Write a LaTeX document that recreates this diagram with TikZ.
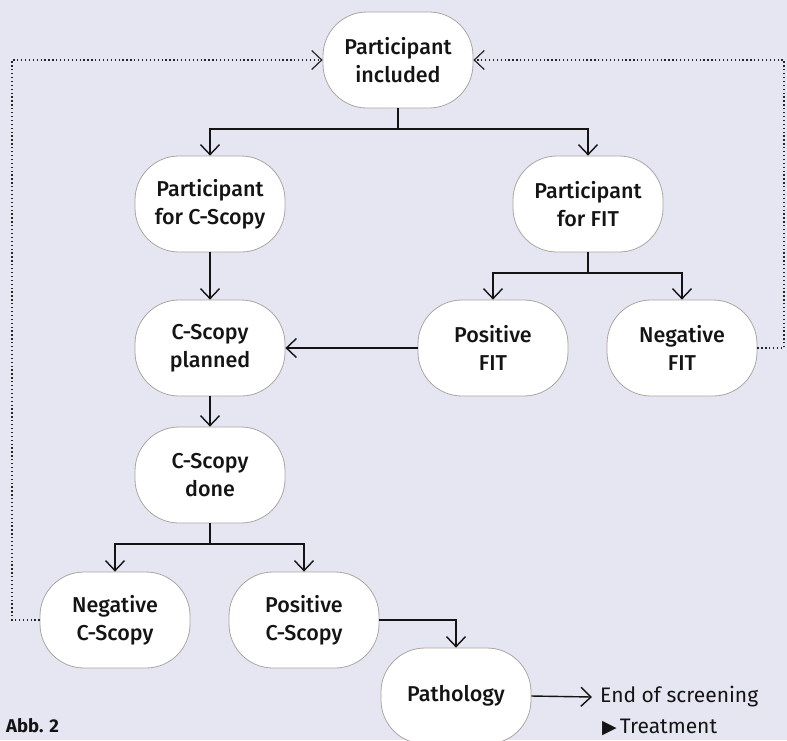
\documentclass[tikz,border=0pt]{standalone}
\usepackage{fontspec}
\setmainfont{Fira Sans}
\newfontfamily\medfont{Fira Sans Medium}
\newfontfamily\symfont{DejaVu Sans}
\usetikzlibrary{arrows.meta}
\definecolor{bg}{RGB}{230,230,243}
\definecolor{bord}{RGB}{172,165,158}
\definecolor{ink}{RGB}{20,20,20}
\tikzset{
  box/.style={draw=bord, line width=0.8pt, fill=white, rounded corners=44pt,
    minimum width=150pt, minimum height=96pt, align=center, inner sep=0pt,
    text=ink, font=\medfont\fontsize{21.5}{28}\selectfont},
  flow/.style={draw=ink, line width=1.4pt,
    -{Straight Barb[length=10pt,width=19pt,line width=1.4pt]}},
  flowline/.style={draw=ink, line width=1.4pt},
  loopline/.style={draw=black!85, line width=1.3pt, dash pattern=on 1.3pt off 2.6pt,
    -{Straight Barb[length=10pt,width=19pt,line width=1.2pt]}},
  plain/.style={text=ink, inner sep=0pt, anchor=west, font=\fontsize{21}{24}\selectfont},
}
\begin{document}
\begin{tikzpicture}[x=1pt,y=-1pt]
\fill[bg] (0,0) rectangle (787,740);
\useasboundingbox (0,0) rectangle (787,740);

\node[box] (inc)  at (398,60)  {Participant\\included};
\node[box] (pc)   at (210,204) {Participant\\for C-Scopy};
\node[box] (pf)   at (588,204) {Participant\\for FIT};
\node[box] (plan) at (210,348) {C-Scopy\\planned};
\node[box] (pos)  at (493,348) {Positive\\FIT};
\node[box] (neg)  at (682,348) {Negative\\FIT};
\node[box] (done) at (210,475) {C-Scopy\\done};
\node[box] (nc)   at (115,620) {Negative\\C-Scopy};
\node[box] (pcs)  at (304,620) {Positive\\C-Scopy};
\node[box] (path) at (456,696) {Pathology};

\node[plain] (eos) at (600,697) {End of screening};
\node[plain] (treat) at (602,727) {{\symfont\fontsize{19}{19}\selectfont ▶}\hspace{3pt}Treatment};
\node[plain, font=\bfseries\fontsize{18.5}{20}\selectfont] (abb) at (6,726) {Abb. 2};

\coordinate (lc) at (12,0);
\coordinate (rc) at (784,0);

% main flow
\draw[flowline] (inc.south) -- (inc.south |- 0,129);
\draw[flow] (inc.south |- 0,129) -| (pc.north);
\draw[flow] (inc.south |- 0,129) -| (pf.north);
\draw[flow] (pc.south) -- (plan.north);
\draw[flowline] (pf.south) -- (pf.south |- 0,273);
\draw[flow] (pf.south |- 0,273) -| (pos.north);
\draw[flow] (pf.south |- 0,273) -| (neg.north);
\draw[flow] (pos.west) -- (plan.east);
\draw[flow] (plan.south) -- (done.north);
\draw[flowline] (done.south) -- (done.south |- 0,544);
\draw[flow] (done.south |- 0,544) -| (nc.north);
\draw[flow] (done.south |- 0,544) -| (pcs.north);
\draw[flow] (pcs.east) -| (path.north);
\draw[flow] (path.east) -- ([xshift=-8pt]eos.west);

% dotted loops
\draw[loopline] (nc.west) -- (nc.west -| lc) |- (inc.west);
\draw[loopline] (neg.east) -- (neg.east -| rc) |- (inc.east);
\end{tikzpicture}
\end{document}
